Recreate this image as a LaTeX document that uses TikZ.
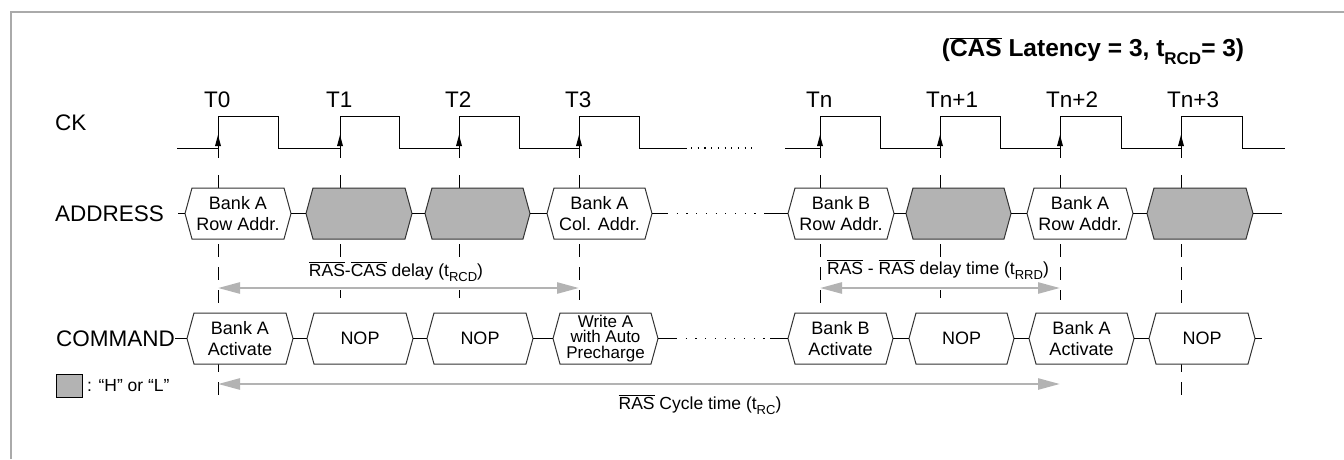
\documentclass[tikz,border=0pt]{standalone}
\usepackage{fontspec}
\setmainfont{Liberation Sans}
\usetikzlibrary{arrows.meta}
\definecolor{hl}{HTML}{B3B3B3}
\definecolor{frm}{HTML}{AAAAAA}
\definecolor{boxline}{HTML}{333333}
\newcommand{\ovl}[1]{$\overline{\mbox{#1}}$}
\newcommand{\subt}[2]{\raisebox{-0.32em}{\fontsize{#1}{#1}\selectfont #2}}
\newcommand{\hexb}[6]{%
 \path[draw=boxline,line width=1pt,fill=#5] (#2,#4) -- ({#2+7},{#4-25.5}) -- ({#3-7},{#4-25.5}) -- (#3,#4) -- ({#3-7},{#4+25.5}) -- ({#2+7},{#4+25.5}) -- cycle;
 \coordinate (#1-l) at (#2,#4);
 \coordinate (#1-r) at (#3,#4);
 \node[boxtxt] (#1) at ({(#2+#3)/2},#4) {#6};}
\begin{document}
\begin{tikzpicture}[x=1pt,y=-1pt,
  boxtxt/.style={align=center,inner sep=0pt,font=\fontsize{18}{21}\selectfont},
  lbl/.style={anchor=west,inner sep=0pt,font=\fontsize{22.5}{26}\selectfont},
  ann/.style={inner sep=1pt,fill=white,font=\fontsize{17.5}{21}\selectfont},
  vdash/.style={line width=1pt,dash pattern=on 13pt off 10pt},
  wire/.style={line width=1pt,black},
  dotw/.style={line width=1.2pt,dash pattern=on 1.2pt off 8.5pt},
  dotc/.style={line width=1.2pt,dash pattern=on 1.2pt off 5.5pt},
  garrow/.style={hl,line width=2.5pt,{Triangle[length=22pt,width=11pt]}-{Triangle[length=22pt,width=11pt]}}]
\useasboundingbox (0,0) rectangle (1344,459);
% frame
\draw[frm,line width=2pt] (11,459) -- (11,12) -- (1344,12);
% title
\node[inner sep=0pt,font=\fontsize{24.5}{28}\selectfont\bfseries] (title) at (1093,51) {(\ovl{CAS} Latency = 3, t\subt{17}{RCD}= 3)};
% row labels
\node[lbl] (ck) at (55,123) {CK};
\node[lbl] (addr) at (55,213.5) {ADDRESS};
\node[lbl] (cmd) at (56,338.5) {COMMAND};
% clock labels
\foreach \x/\t/\n in {218/T0/t0,340/T1/t1,459/T2/t2,579/T3/t3,820/Tn/tn,940/Tn+1/tn1,1060/Tn+2/tn2,1181/Tn+3/tn3}
  \node[lbl] (\n) at ({\x-14},100) {\t};
% dashed guides
\foreach \x/\e in {218/400,340/298,459/298,579/300,820/313,940/298,1060/300,1181/400}
  \draw[vdash] (\x,175) -- (\x,\e);
% clock
\draw[wire] (177,148) -- (218,148) -- (218,116) -- (278,116) -- (278,148) -- (340,148) -- (340,116) -- (399,116) -- (399,148) -- (459,148) -- (459,116) -- (519,116) -- (519,148) -- (579,148) -- (579,116) -- (639,116) -- (639,148) -- (687,148);
\draw[dotc] (691,148) -- (752,148);
\draw[wire] (785,148) -- (820,148) -- (820,116) -- (880,116) -- (880,148) -- (940,148) -- (940,116) -- (1000,116) -- (1000,148) -- (1060,148) -- (1060,116) -- (1121,116) -- (1121,148) -- (1181,148) -- (1181,116) -- (1242,116) -- (1242,148) -- (1285,148);
\foreach \x in {218,340,459,579,820,940,1060,1181}{
  \draw[wire] (\x,148) -- (\x,158);
  \fill ({\x-3},146) -- ({\x+3},146) -- (\x,135) -- cycle;}
% ADDRESS row
\hexb{a1}{185}{291}{213.5}{white}{Bank A\\Row Addr.}
\hexb{a2}{306}{412}{213.5}{hl}{}
\hexb{a3}{425}{530}{213.5}{hl}{}
\hexb{a4}{547}{652}{213.5}{white}{Bank A\\Col. Addr.}
\hexb{a5}{788}{894}{213.5}{white}{Bank B\\Row Addr.}
\hexb{a6}{906}{1011}{213.5}{hl}{}
\hexb{a7}{1027}{1133}{213.5}{white}{Bank A\\Row Addr.}
\hexb{a8}{1147}{1253}{213.5}{hl}{}
\coordinate (as) at (178,213.5);
\coordinate (ad1) at (667,213.5);
\coordinate (ad2) at (765,213.5);
\coordinate (ae) at (1282,213.5);
\draw[wire] (as) -- (a1-l);
\draw[wire] (a1-r) -- (a2-l);
\draw[wire] (a2-r) -- (a3-l);
\draw[wire] (a3-r) -- (a4-l);
\draw[wire] (a4-r) -- (ad1);
\draw[dotw] (ad1) -- (ad2);
\draw[wire] (ad2) -- (a5-l);
\draw[wire] (a5-r) -- (a6-l);
\draw[wire] (a6-r) -- (a7-l);
\draw[wire] (a7-r) -- (a8-l);
\draw[wire] (a8-r) -- (ae);
% COMMAND row
\hexb{c1}{187}{293}{338.5}{white}{Bank A\\Activate}
\hexb{c2}{307}{413}{338.5}{white}{NOP}
\hexb{c3}{427}{533}{338.5}{white}{NOP}
\hexb{c4}{553}{658}{338.5}{white}{}
\node[boxtxt,font=\fontsize{17}{15.5}\selectfont] (c4t) at (605.5,338.5) {Write A\\with Auto\\Precharge};
\hexb{c5}{788}{893}{338.5}{white}{Bank B\\Activate}
\hexb{c6}{909}{1014}{338.5}{white}{NOP}
\hexb{c7}{1029}{1134}{338.5}{white}{Bank A\\Activate}
\hexb{c8}{1149}{1255}{338.5}{white}{NOP}
\coordinate (cs) at (175,338.5);
\coordinate (cd1) at (676,338.5);
\coordinate (cd2) at (770,338.5);
\coordinate (ce) at (1262,338.5);
\draw[wire] (cs) -- (c1-l);
\draw[wire] (c1-r) -- (c2-l);
\draw[wire] (c2-r) -- (c3-l);
\draw[wire] (c3-r) -- (c4-l);
\draw[wire] (c4-r) -- (cd1);
\draw[dotw] (cd1) -- (cd2);
\draw[wire] (cd2) -- (c5-l);
\draw[wire] (c5-r) -- (c6-l);
\draw[wire] (c6-r) -- (c7-l);
\draw[wire] (c7-r) -- (c8-l);
\draw[wire] (c8-r) -- (ce);
% timing annotations
\node[ann] (rcd) at (396,272) {\ovl{RAS}-\ovl{CAS} delay (t\subt{13}{RCD})};
\node[ann] (rrd) at (938,270) {\ovl{RAS} - \ovl{RAS} delay time (t\subt{13}{RRD})};
\node[ann] (rc) at (700,405) {\ovl{RAS} Cycle time (t\subt{13}{RC})};
\coordinate (rcdL) at (218,288);
\coordinate (rcdR) at (579,288);
\coordinate (rrdL) at (820,288);
\coordinate (rrdR) at (1060,288);
\coordinate (rcL) at (218,384);
\coordinate (rcR) at (1060,384);
\draw[garrow] (rcdL) -- (rcdR);
\draw[garrow] (rrdL) -- (rrdR);
\draw[garrow] (rcL) -- (rcR);
% legend
\node[draw=black,fill=hl,line width=1pt,minimum width=26pt,minimum height=23pt,inner sep=0pt] (leg) at (69,385.5) {};
\node[anchor=west,inner sep=0pt,font=\fontsize{17.5}{21}\selectfont] (legt) at (87,386) {: “H” or “L”};
\end{tikzpicture}
\end{document}
